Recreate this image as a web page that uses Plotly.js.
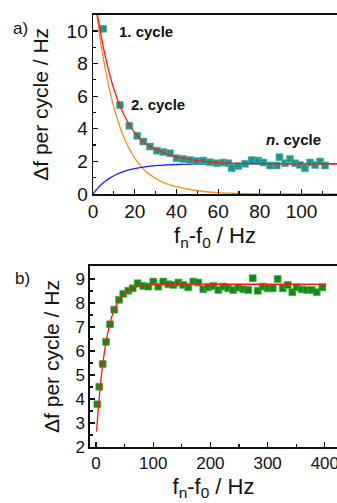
<!DOCTYPE html>
<html><head><meta charset="utf-8">
<script src="https://cdn.plot.ly/plotly-3.0.1.min.js"></script>
<style>html,body{margin:0;padding:0;background:#fff}#c{width:337px;height:503px}</style>
</head><body><div id="c"></div>
<script>
// Panel a) measured points
var aX = [4.9,12.9,17.4,21.2,24.1,27.3,30.6,33.7,36.9,40.1,43.3,46.5,49.7,52.9,56.1,59.3,62.5,64.9,66.5,69.7,72.9,76.1,79.3,81.7,84.9,88.1,89.4,92.1,94.5,96.9,99.3,101.7,104.1,106.5,108.9,111.3];
var aY = [10.13,5.46,4.18,3.57,3.22,2.91,2.66,2.57,2.50,2.20,2.14,2.09,2.03,2.05,1.95,1.89,1.93,1.89,1.58,1.72,1.85,2.09,2.05,1.93,1.75,1.75,2.26,1.89,2.14,1.89,1.78,1.58,1.93,1.78,1.99,1.75];
// Panel a) fit curves (read from picture)
var fitX = [0,2,4,6,8,10,13,16,20,25,30,35,40,50,60,70,80,90,100,117];
var redY = [12.9,11.13,9.63,8.38,7.33,6.44,5.38,4.57,3.76,3.10,2.78,2.46,2.28,2.05,1.93,1.88,1.86,1.85,1.85,1.85];
var orangeY = [12.9,10.81,9.05,7.59,6.36,5.32,4.08,3.13,2.20,1.43,0.95,0.64,0.45,0.20,0.08,0.03,0.012,0.005,0.002,0.0005];
var blueY = [0,0.315,0.577,0.794,0.974,1.12,1.30,1.44,1.56,1.67,1.74,1.78,1.81,1.83,1.84,1.85,1.85,1.85,1.85,1.85];
// Panel b) measured points
var bX = [2.3,5.8,11.7,17.5,24.5,32,40.2,47.7,56.5,64.2,72.9,82.7,91.5,100.2,109,117.7,126.4,135.1,144,152.6,161.4,170.1,178.8,187.6,196.3,205.1,213.8,222.6,231.3,240,248.8,257.5,266.3,273.9,282.7,291.4,300.2,308.9,317.6,326.4,335.1,343.2,350.9,359.6,368.4,377.1,385.8,395.7];
var bY = [3.78,4.51,5.46,6.38,7.11,7.72,8.13,8.38,8.51,8.61,8.82,8.71,8.68,8.89,8.68,8.89,8.78,8.75,8.85,8.75,8.65,8.89,8.85,8.57,8.65,8.71,8.54,8.68,8.61,8.54,8.64,8.57,8.54,9.03,8.51,8.68,8.61,8.61,9.0,8.61,8.75,8.45,8.65,8.57,8.54,8.54,8.45,8.65];
// Panel b) fit curve
var bFitX = [1,5,10,15,20,25,30,40,50,60,70,80,100,150,200,300,402];
var bFitY = [2.64,3.88,5.09,5.99,6.68,7.20,7.59,8.10,8.40,8.56,8.66,8.71,8.76,8.78,8.78,8.78,8.78];

var traces = [
  {x:fitX,y:orangeY,type:'scatter',mode:'lines',line:{color:'#ff8c1a',width:1.3,shape:'spline'},xaxis:'x',yaxis:'y',hoverinfo:'skip'},
  {x:fitX,y:blueY,type:'scatter',mode:'lines',line:{color:'#1f1fff',width:1.3,shape:'spline'},xaxis:'x',yaxis:'y',hoverinfo:'skip'},
  {x:aX,y:aY,type:'scatter',mode:'markers',marker:{symbol:'square',size:7,color:'#1f968a',line:{width:0.6,color:'#5cb8ae'}},xaxis:'x',yaxis:'y'},
  {x:fitX,y:redY,type:'scatter',mode:'lines',line:{color:'#ff1a1a',width:1.3,shape:'spline'},xaxis:'x',yaxis:'y',hoverinfo:'skip'},
  {x:bX,y:bY,type:'scatter',mode:'markers',marker:{symbol:'square',size:7,color:'#138a13',line:{width:0.6,color:'#55b055'}},xaxis:'x2',yaxis:'y2'},
  {x:bFitX,y:bFitY,type:'scatter',mode:'lines',line:{color:'#ff1a1a',width:1.3,shape:'spline'},xaxis:'x2',yaxis:'y2',hoverinfo:'skip'}
];

var FF = 'Liberation Sans, Arial, sans-serif';
var tickFont = {family:FF,size:19,color:'#111'};
var tickFont2 = {family:FF,size:17,color:'#111'};
var xTitleFont = {family:FF,size:22,color:'#111'};
var yTitleFont = {family:FF,size:21,color:'#111'};
function ax(o){
  return Object.assign({showline:true,linecolor:'#111',linewidth:1.5,ticks:'inside',ticklen:5,tickwidth:1.2,tickcolor:'#111',
    showgrid:false,zeroline:false,tickfont:tickFont,fixedrange:true,ticklabeloverflow:'allow'}, o);
}
var layout = {
  width:337,height:503,margin:{l:0,r:0,t:0,b:0},paper_bgcolor:'#fff',plot_bgcolor:'#fff',showlegend:false,
  xaxis: ax({domain:[0.276,1],range:[0,117],dtick:20,mirror:true,anchor:'y',
    minor:{ticks:'inside',ticklen:3,dtick:10,tickcolor:'#111'},
    title:{text:'f<sub>n</sub>-f<sub>0</sub> / Hz',font:xTitleFont,standoff:6}}),
  yaxis: ax({domain:[0.6143,0.9708],range:[0,11],dtick:2,anchor:'x',
    minor:{ticks:'inside',ticklen:3,dtick:1,tickcolor:'#111'},
    title:{text:'Δf per cycle / Hz',font:yTitleFont,standoff:12}}),
  xaxis2: ax({domain:[0.267,1],range:[-10.5,421.3],dtick:100,mirror:true,anchor:'y2',
    minor:{ticks:'inside',ticklen:3,dtick:50,tickcolor:'#111'},tickfont:tickFont2,
    title:{text:'f<sub>n</sub>-f<sub>0</sub> / Hz',font:xTitleFont,standoff:6}}),
  yaxis2: ax({domain:[0.1113,0.4712],range:[2,9.54],dtick:1,anchor:'x2',
    minor:{ticks:'inside',ticklen:3,dtick:0.5,tickcolor:'#111'},tickfont:tickFont2,
    title:{text:'Δf per cycle / Hz',font:yTitleFont,standoff:10}}),
  annotations:[
    {xref:'paper',yref:'paper',x:20/337,y:1-28/503,text:'a)',showarrow:false,xanchor:'center',yanchor:'middle',font:{family:FF,size:17,color:'#111'}},
    {xref:'paper',yref:'paper',x:22/337,y:1-278/503,text:'b)',showarrow:false,xanchor:'center',yanchor:'middle',font:{family:FF,size:17,color:'#111'}},
    {xref:'x',yref:'y',x:11.5,y:9.97,text:'<b>1. cycle</b>',showarrow:false,xanchor:'left',yanchor:'middle',font:{family:FF,size:15,color:'#111'}},
    {xref:'x',yref:'y',x:17.2,y:5.48,text:'<b>2. cycle</b>',showarrow:false,xanchor:'left',yanchor:'middle',font:{family:FF,size:15,color:'#111'}},
    {xref:'x',yref:'y',x:82,y:3.32,text:'<b><i>n</i>. cycle</b>',showarrow:false,xanchor:'left',yanchor:'middle',font:{family:FF,size:15,color:'#111'}}
  ]
};
Plotly.newPlot('c',traces,layout,{displayModeBar:false,staticPlot:true});
</script></body></html>
